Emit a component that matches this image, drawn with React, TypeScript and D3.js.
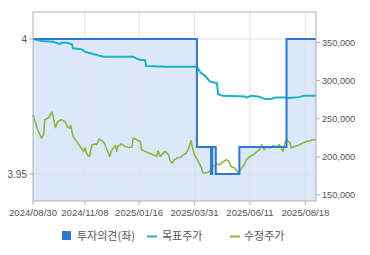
import React from 'react';
import * as d3 from 'd3';

// Trading calendar
const START_DATE = '2024-08-30';
const END_DATE = '2025-08-29';
const HOLIDAYS = [
  '2024-09-16', '2024-09-17', '2024-09-18', '2024-10-01', '2024-10-03', '2024-10-09',
  '2024-12-25', '2024-12-31', '2025-01-01', '2025-01-27', '2025-01-28', '2025-01-29',
  '2025-01-30', '2025-03-03', '2025-05-01', '2025-05-05', '2025-05-06', '2025-06-03',
  '2025-06-06', '2025-08-15',
];

const X_TICK_LABELS = ['2024/08/30', '2024/11/08', '2025/01/16', '2025/03/31', '2025/06/11', '2025/08/18'];
const LEFT_TICKS = [4, 3.95];
const RIGHT_TICKS = [350000, 300000, 250000, 200000, 150000];

// 투자의견 (trading-day offset, value)
const opinionDay = [0, 139, 151, 152, 155, 175, 215, 240];
const opinionValue = [4, 3.96, 3.95, 3.96, 3.95, 3.96, 4, 4];

// 목표주가
const targetDay = [0, 4, 7, 17, 23, 24, 29, 33, 34, 41, 44, 47, 54, 60, 85, 88, 91, 95, 96, 113, 139, 142, 146, 150, 156, 157, 161, 180, 181, 185, 191, 197, 201, 206, 214, 216, 225, 230, 240];
const targetValue = [354600, 353300, 352000, 351000, 348000, 349700, 349700, 347600, 342400, 341100, 338000, 336600, 333600, 331400, 331400, 328800, 327100, 327100, 319200, 318300, 318300, 310500, 306200, 298700, 296600, 282200, 280000, 279100, 277700, 280000, 279100, 275700, 275700, 277700, 277700, 277000, 278300, 280000, 280000];

// 수정주가
const priceDay = [0, 4, 7, 9, 10, 13, 16, 17, 19, 21, 24, 27, 29, 31, 32, 33, 34, 37, 40, 43, 44, 46, 48, 50, 53, 54, 56, 60, 61, 64, 65, 67, 70, 71, 72, 75, 78, 81, 84, 85, 88, 91, 92, 95, 98, 102, 105, 106, 108, 112, 115, 116, 118, 120, 122, 125, 127, 130, 132, 134, 135, 137, 140, 143, 144, 147, 150, 151, 153, 156, 158, 161, 164, 166, 168, 171, 174, 177, 179, 181, 184, 187, 190, 192, 194, 196, 198, 201, 204, 206, 209, 212, 214, 215, 218, 219, 222, 226, 229, 232, 235, 237, 240];
const priceValue = [255100, 235500, 224600, 228900, 248600, 250800, 258600, 252900, 238500, 246300, 248600, 246300, 239800, 237700, 241100, 233200, 226700, 220200, 213600, 207100, 211500, 202700, 200500, 215800, 216800, 215800, 223300, 219400, 215800, 205000, 200500, 209300, 214900, 207100, 213600, 216800, 213600, 212300, 212800, 224600, 222400, 220200, 209300, 207100, 205000, 202700, 200500, 208000, 200500, 207100, 202700, 196000, 191900, 196200, 198400, 199300, 201800, 205000, 211500, 221100, 213600, 202700, 194000, 185300, 178800, 178800, 180900, 185300, 187400, 190600, 189700, 193200, 196200, 194000, 187400, 185300, 179500, 185300, 189000, 196200, 200500, 202700, 207100, 209300, 215800, 209300, 213600, 211500, 214900, 212300, 215800, 207100, 220200, 222400, 218100, 211500, 213600, 215800, 218100, 220200, 221100, 222400, 222400];

const LEGEND = ['투자의견(좌)', '목표주가', '수정주가'];

const W = 370;
const H = 255;
const PL = 33, PR = 316, PT = 12, PB = 201;

const C_OPINION = '#2f78d2';
const C_FILL = '#dce7f7';
const C_TARGET = '#19b3c8';
const C_PRICE = '#8ab846';
const C_GRID = '#dde2ea';
const C_AXIS = '#b0b0b0';
const C_TEXT = '#555';

function tradingDays(): string[] {
  const fmt = d3.utcFormat('%Y-%m-%d');
  const p = d3.utcParse('%Y-%m-%d');
  const s = p(START_DATE)!;
  const e = d3.utcDay.offset(p(END_DATE)!, 1);
  const hol = new Set(HOLIDAYS);
  return d3.utcDay.range(s, e).filter((d) => d.getUTCDay() !== 0 && d.getUTCDay() !== 6 && !hol.has(fmt(d))).map(fmt);
}

export default function App() {
  const days = tradingDays();
  const x = d3.scaleLinear().domain([0, days.length - 1]).range([PL, PR]);
  const yL = d3.scaleLinear().domain([3.94, 4.01]).range([PB, PT]);
  const yR = d3.scaleLinear().domain([142000, 390000]).range([PB, PT]);

  const xTicks = X_TICK_LABELS.map((l) => ({ label: l, i: days.indexOf(l.replace(/\//g, '-')) }));

  const opinion = opinionDay.map((d, i) => [d, opinionValue[i]] as [number, number]);
  const target = targetDay.map((d, i) => [d, targetValue[i]] as [number, number]);
  const price = priceDay.map((d, i) => [d, priceValue[i]] as [number, number]);

  const area = d3.area<[number, number]>().x((d) => x(d[0])).y0(PB).y1((d) => yL(d[1])).curve(d3.curveStepAfter);
  const opLine = d3.line<[number, number]>().x((d) => x(d[0])).y((d) => yL(d[1])).curve(d3.curveStepAfter);
  const rLine = d3.line<[number, number]>().x((d) => x(d[0])).y((d) => yR(d[1]));

  const font = 'Liberation Sans, Arial, sans-serif';
  const kfont = '"Noto Sans CJK KR", "Noto Sans", sans-serif';

  return (
    <svg width={W} height={H} style={{ position: 'absolute', left: 0, top: 0, background: '#fff' }}>
      <rect x={PL} y={PT} width={PR - PL} height={PB - PT} fill="#fff" />
      <path d={area(opinion) ?? ''} fill={C_FILL} />
      {xTicks.slice(1).map((t) => (
        <line key={t.label} x1={x(t.i)} x2={x(t.i)} y1={PT} y2={PB} stroke={C_GRID} strokeWidth={1} />
      ))}
      {LEFT_TICKS.map((v) => (
        <line key={v} x1={PL} x2={PR} y1={yL(v)} y2={yL(v)} stroke={C_GRID} strokeWidth={1} />
      ))}
      <path d={rLine(price) ?? ''} fill="none" stroke={C_PRICE} strokeWidth={1.6} strokeLinejoin="round" />
      <path d={rLine(target) ?? ''} fill="none" stroke={C_TARGET} strokeWidth={2} />
      <path d={opLine(opinion) ?? ''} fill="none" stroke={C_OPINION} strokeWidth={2} />
      <rect x={PL} y={PT} width={PR - PL} height={PB - PT} fill="none" stroke={C_AXIS} strokeWidth={1} />
      {LEFT_TICKS.map((v) => (
        <g key={v}>
          <line x1={PL - 4} x2={PL} y1={yL(v)} y2={yL(v)} stroke={C_AXIS} />
          <text x={PL - 6} y={yL(v)} dy="0.35em" textAnchor="end" fontSize={10} fontFamily={font} fill={C_TEXT}>{v}</text>
        </g>
      ))}
      {RIGHT_TICKS.map((v) => (
        <g key={v}>
          <line x1={PR} x2={PR + 4} y1={yR(v)} y2={yR(v)} stroke={C_AXIS} />
          <text x={PR + 6} y={yR(v)} dy="0.35em" textAnchor="start" fontSize={9.2} fontFamily={font} fill={C_TEXT}>{d3.format(',')(v)}</text>
        </g>
      ))}
      {xTicks.map((t) => (
        <g key={t.label}>
          <line x1={x(t.i)} x2={x(t.i)} y1={PB} y2={PB + 4} stroke={C_AXIS} />
          <text x={x(t.i)} y={PB + 15} textAnchor="middle" fontSize={9.6} fontFamily={font} fill={C_TEXT}>{t.label}</text>
        </g>
      ))}
      <g>
        <rect x={62} y={231} width={9} height={9} fill={C_OPINION} />
        <text x={77} y={240} fontSize={11} fontFamily={kfont} fill={C_TEXT}>{LEGEND[0]}</text>
        <line x1={147} x2={157} y1={236.5} y2={236.5} stroke={C_TARGET} strokeWidth={2} />
        <text x={162} y={240} fontSize={11} fontFamily={kfont} fill={C_TEXT}>{LEGEND[1]}</text>
        <line x1={230} x2={240} y1={236.5} y2={236.5} stroke={C_PRICE} strokeWidth={2} />
        <text x={244} y={240} fontSize={11} fontFamily={kfont} fill={C_TEXT}>{LEGEND[2]}</text>
      </g>
    </svg>
  );
}
